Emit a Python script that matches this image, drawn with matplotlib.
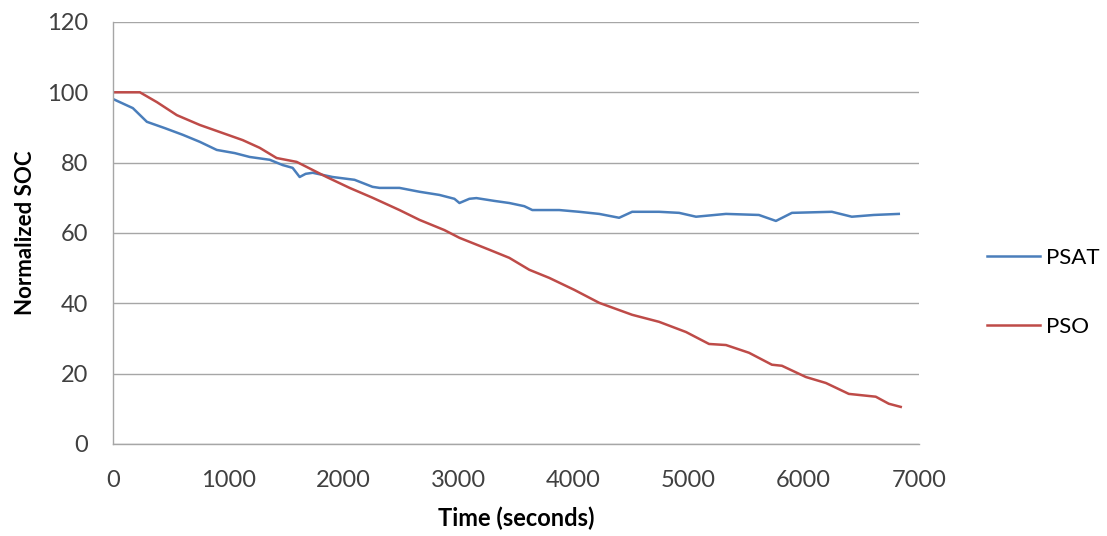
import matplotlib
matplotlib.use("Agg")
import matplotlib.pyplot as plt

# PSAT (blue) readings: time (s), normalized SOC
psat_t = [0, 173, 295, 451, 607, 755, 902, 1058, 1188, 1362, 1474, 1561, 1622, 1674, 1735,
          1908, 2099, 2255, 2316, 2489, 2663, 2836, 2966, 3010, 3096, 3157, 3313, 3443, 3573,
          3643, 3877, 4050, 4224, 4397, 4510, 4744, 4918, 5065, 5325, 5611, 5759, 5898, 6245,
          6418, 6609, 6826]
psat_v = [98.1, 95.5, 91.6, 89.8, 87.9, 85.9, 83.6, 82.7, 81.6, 80.8, 79.3, 78.5, 75.9, 76.8, 77.1,
          75.9, 75.1, 73.1, 72.8, 72.8, 71.7, 70.8, 69.7, 68.5, 69.7, 69.9, 69.1, 68.5, 67.6,
          66.5, 66.5, 66.0, 65.4, 64.3, 66.0, 66.0, 65.7, 64.6, 65.4, 65.1, 63.4, 65.7, 66.0,
          64.6, 65.1, 65.4]

# PSO (red) readings
pso_t = [0, 234, 382, 555, 755, 928, 1127, 1275, 1422, 1596, 1856, 2056, 2255, 2489, 2663,
         2879, 3010, 3270, 3443, 3617, 3790, 4007, 4224, 4510, 4744, 4978, 5178, 5325, 5525,
         5724, 5811, 6019, 6193, 6392, 6626, 6739, 6843]
pso_v = [100, 100, 97.2, 93.5, 90.7, 88.7, 86.4, 84.2, 81.3, 80.2, 75.9, 72.8, 70.0, 66.5, 63.7,
         60.8, 58.6, 55.2, 52.9, 49.5, 47.2, 43.8, 40.1, 36.7, 34.7, 31.8, 28.4, 28.1, 25.9,
         22.5, 22.2, 19.0, 17.3, 14.2, 13.4, 11.4, 10.5]

x_ticks = [0, 1000, 2000, 3000, 4000, 5000, 6000, 7000]
y_ticks = [0, 20, 40, 60, 80, 100, 120]

plt.rcParams['font.family'] = ['Lato', 'DejaVu Sans']

fig = plt.figure(figsize=(11.07, 5.36), dpi=100)
ax = fig.add_axes([0.102, 0.172, 0.728, 0.787])

ax.plot(psat_t, psat_v, color='#4A7EBB', lw=1.8, label='PSAT')
ax.plot(pso_t, pso_v, color='#BE4B48', lw=1.8, label='PSO')

ax.set_xlim(0, 7000)
ax.set_ylim(0, 120)
ax.set_xticks(x_ticks)
ax.set_yticks(y_ticks)
ax.yaxis.grid(True, color='#A6A6A6', lw=1.0)
ax.set_axisbelow(True)
for s in ['top', 'right']:
    ax.spines[s].set_visible(False)
for s in ['left', 'bottom']:
    ax.spines[s].set_color('#A6A6A6')
    ax.spines[s].set_linewidth(1.0)
ax.tick_params(axis='both', length=0, labelsize=17, colors='#404040')
ax.tick_params(axis='x', pad=19)
ax.tick_params(axis='y', pad=18)
ax.set_xlabel('Time (seconds)', fontsize=17, fontweight='bold', labelpad=11)
ax.set_ylabel('Normalized SOC', fontsize=16, fontweight='bold', labelpad=8)

leg = ax.legend(loc='center left', bbox_to_anchor=(987 / 1107, 1 - 292.5 / 536),
                bbox_transform=fig.transFigure, frameon=False, borderpad=0, borderaxespad=0,
                fontsize=16, handlelength=2.4, labelspacing=2.2, handletextpad=0.25)

fig.savefig('out.png', dpi=100, facecolor='white')
